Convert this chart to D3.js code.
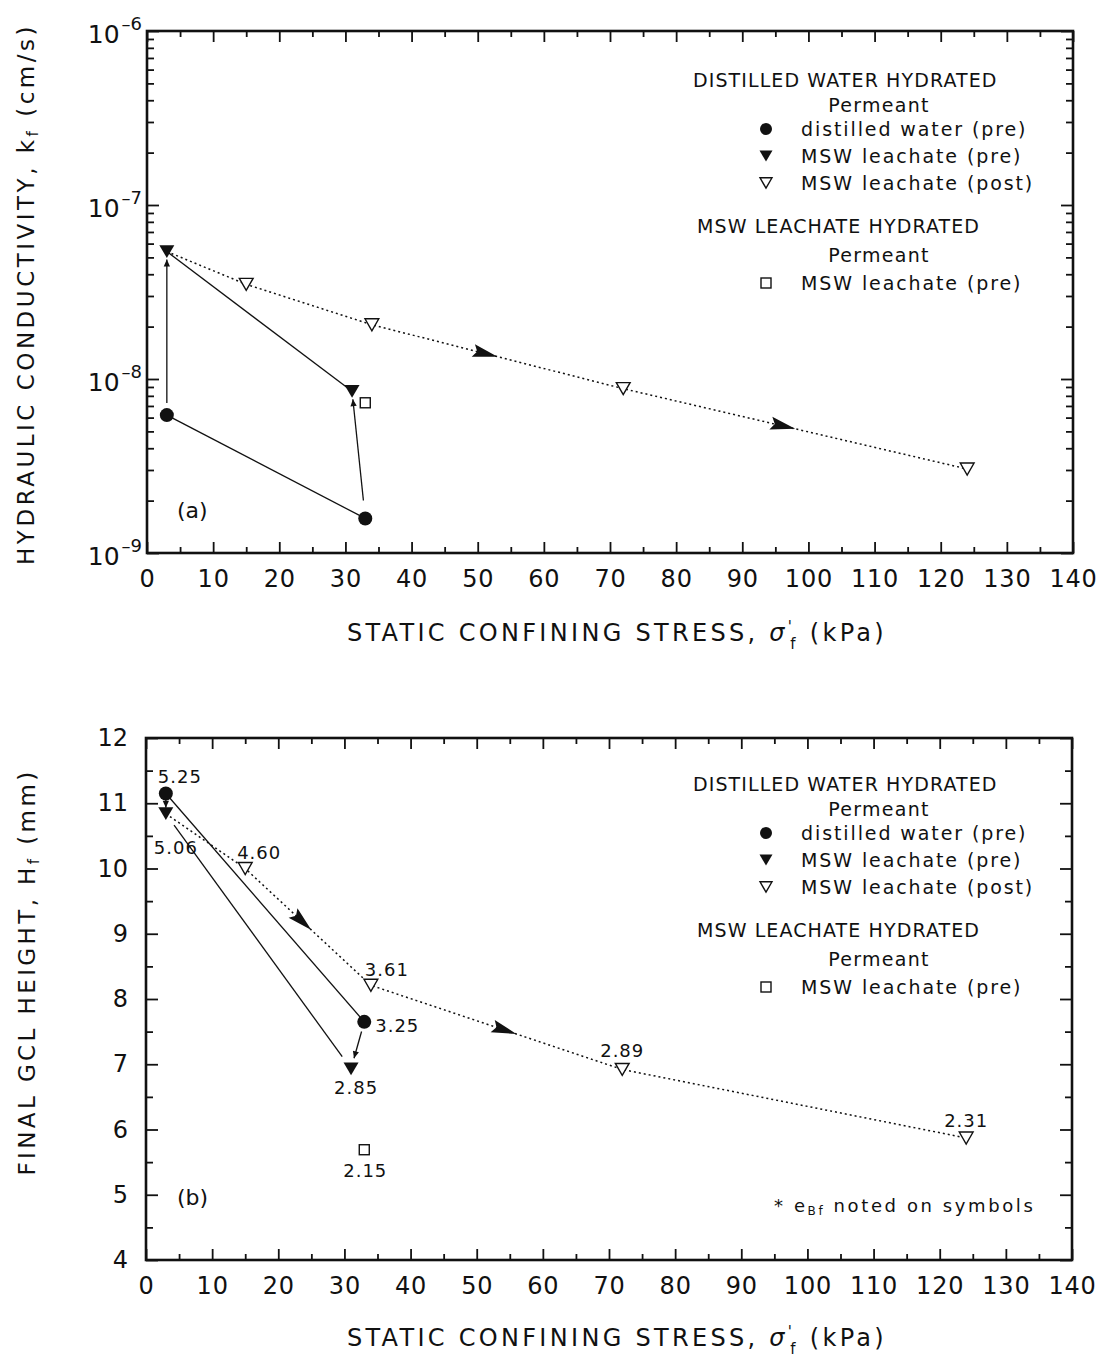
<!DOCTYPE html>
<html>
<head>
<meta charset="utf-8">
<script src="https://cdn.jsdelivr.net/npm/d3@7"></script>
<style>
  body { margin: 0; background: #fff; }
  svg text { font-family: "DejaVu Sans", "Liberation Sans", Arial, sans-serif; fill: #111; }
</style>
</head>
<body>
<svg id="fig" width="1104" height="1360"></svg>
<script>
// ---------------- data ----------------
// shared x axis: static confining stress (kPa)
const stressTicks = [0, 10, 20, 30, 40, 50, 60, 70, 80, 90, 100, 110, 120, 130, 140];
const stressMinorTicks = [5, 15, 25, 35, 45, 55, 65, 75, 85, 95, 105, 115, 125, 135];

// panel (a) y axis: hydraulic conductivity decades
const kDecades = [1e-9, 1e-8, 1e-7, 1e-6];
const kDecadeExponents = ["9", "8", "7", "6"];
const kMinorMultipliers = [2, 3, 4, 5, 6, 7, 8, 9];

// panel (b) y axis: final GCL height (mm)
const heightTicks = [4, 5, 6, 7, 8, 9, 10, 11, 12];
const heightMinorTicks = [4.5, 5.5, 6.5, 7.5, 8.5, 9.5, 10.5, 11.5];

// distilled-water hydrated, distilled water permeant (pre)
const dwStress = [3, 33];
const dwK = [6.2e-9, 1.58e-9];
const dwHeight = [11.15, 7.65];
const dwVoid = ["5.25", "3.25"];

// distilled-water hydrated, MSW leachate permeant (pre)
const mswPreStress = [3, 31];
const mswPreK = [5.4e-8, 8.5e-9];
const mswPreHeight = [10.84, 6.93];
const mswPreVoid = ["5.06", "2.85"];

// distilled-water hydrated, MSW leachate permeant (post)
const mswPostStress = [15, 34, 72, 124];
const mswPostK = [3.5e-8, 2.05e-8, 8.8e-9, 3.04e-9];
const mswPostHeight = [10.0, 8.21, 6.92, 5.87];
const mswPostVoid = ["4.60", "3.61", "2.89", "2.31"];

// MSW-leachate hydrated, MSW leachate permeant (pre)
const lhStress = [33];
const lhK = [7.3e-9];
const lhHeight = [5.69];
const lhVoid = ["2.15"];

// stress values where direction arrowheads sit on the post-test path
const pathArrowStressA = [53, 98];
const pathArrowStressB = [25, 56];

// ---------------- drawing ----------------
const svg = d3.select("#fig");
const defs = svg.append("defs");
defs.append("marker")
  .attr("id", "head")
  .attr("viewBox", "0 0 10 10")
  .attr("refX", 10).attr("refY", 5)
  .attr("markerWidth", 9).attr("markerHeight", 7)
  .attr("markerUnits", "userSpaceOnUse")
  .attr("orient", "auto")
  .append("path").attr("d", "M0,0.5 L10,5 L0,9.5 Z").attr("fill", "#111");

function triDown(w, h) {
  return `M${-w / 2},${-h / 2}L${w / 2},${-h / 2}L0,${h / 2}Z`;
}
const SYM = {
  dot: (g, r) => g.append("circle").attr("r", r.dot).attr("fill", "#111"),
  tri: (g, r) => g.append("path").attr("d", triDown(r.tri, r.tri * 0.85)).attr("fill", "#111"),
  triOpen: (g, r) => g.append("path").attr("d", triDown(r.tri * 0.92, r.tri * 0.8))
    .attr("fill", "#fff").attr("stroke", "#111").attr("stroke-width", 1.4),
  square: (g, r) => g.append("rect").attr("x", -r.sq / 2).attr("y", -r.sq / 2)
    .attr("width", r.sq).attr("height", r.sq)
    .attr("fill", "#fff").attr("stroke", "#111").attr("stroke-width", 1.4)
};
const plotSize = { dot: 7, tri: 15, sq: 10 };
const legendSize = { dot: 6, tri: 13, sq: 10 };

function trim(p0, p1, s0, s1) {
  const dx = p1[0] - p0[0], dy = p1[1] - p0[1];
  const L = Math.hypot(dx, dy), ux = dx / L, uy = dy / L;
  return [[p0[0] + ux * s0, p0[1] + uy * s0], [p1[0] - ux * s1, p1[1] - uy * s1]];
}

function drawFrameAndAxes(x, y, yMajor, yMinor, yMajorFmt) {
  const [x0, x1] = x.range();
  const [yb, yt] = y.range();
  const g = svg.append("g");
  const tickStyle = sel => {
    sel.select(".domain").remove();
    sel.selectAll(".tick line").attr("stroke", "#111").attr("stroke-width", 1.8);
  };
  // x axis: bottom with labels, top without
  g.append("g").attr("transform", `translate(0,${yb})`)
    .call(d3.axisBottom(x).tickValues(stressTicks).tickSizeInner(-11).tickSizeOuter(0).tickPadding(17))
    .call(tickStyle)
    .call(s => s.selectAll("text").attr("font-size", 24).attr("fill", "#111")
      .style("font-family", '"DejaVu Sans", sans-serif').attr("letter-spacing", 0.8));
  g.append("g").attr("transform", `translate(0,${yb})`)
    .call(d3.axisBottom(x).tickValues(stressMinorTicks).tickSizeInner(-6).tickSizeOuter(0).tickFormat(""))
    .call(tickStyle);
  g.append("g").attr("transform", `translate(0,${yt})`)
    .call(d3.axisTop(x).tickValues(stressTicks).tickSizeInner(-11).tickSizeOuter(0).tickFormat(""))
    .call(tickStyle);
  g.append("g").attr("transform", `translate(0,${yt})`)
    .call(d3.axisTop(x).tickValues(stressMinorTicks).tickSizeInner(-6).tickSizeOuter(0).tickFormat(""))
    .call(tickStyle);
  // y axis: left with labels, right without
  g.append("g").attr("transform", `translate(${x0},0)`)
    .call(d3.axisLeft(y).tickValues(yMajor).tickSizeInner(-12).tickSizeOuter(0).tickPadding(18).tickFormat(yMajorFmt))
    .call(tickStyle)
    .call(s => s.selectAll("text").attr("font-size", 24).attr("fill", "#111")
      .style("font-family", '"DejaVu Sans", sans-serif'));
  g.append("g").attr("transform", `translate(${x0},0)`)
    .call(d3.axisLeft(y).tickValues(yMinor).tickSizeInner(-7).tickSizeOuter(0).tickFormat(""))
    .call(tickStyle);
  g.append("g").attr("transform", `translate(${x1},0)`)
    .call(d3.axisRight(y).tickValues(yMajor).tickSizeInner(-12).tickSizeOuter(0).tickFormat(""))
    .call(tickStyle);
  g.append("g").attr("transform", `translate(${x1},0)`)
    .call(d3.axisRight(y).tickValues(yMinor).tickSizeInner(-7).tickSizeOuter(0).tickFormat(""))
    .call(tickStyle);
  // frame
  g.append("rect").attr("x", x0).attr("y", yt).attr("width", x1 - x0).attr("height", yb - yt)
    .attr("fill", "none").attr("stroke", "#111").attr("stroke-width", 2.6);
  return g;
}

function xTitle(cx, baseline) {
  const t = svg.append("text").attr("x", cx).attr("y", baseline).attr("text-anchor", "middle")
    .attr("font-size", 24).attr("letter-spacing", 3.3);
  t.append("tspan").text("STATIC CONFINING STRESS, ");
  t.append("tspan").text("σ").attr("font-style", "italic");
  t.append("tspan").text("'").attr("font-size", 15).attr("dy", -9);
  t.append("tspan").text("f").attr("font-size", 15).attr("dx", -5).attr("dy", 17);
  t.append("tspan").text(" (kPa)").attr("dy", -8);
}

function yTitle(cx, cy, main, sub, tail, spacing) {
  const t = svg.append("text").attr("transform", `translate(${cx},${cy}) rotate(-90)`)
    .attr("text-anchor", "middle").attr("dominant-baseline", "central")
    .attr("font-size", 23).attr("letter-spacing", spacing);
  t.append("tspan").text(main);
  t.append("tspan").text(sub).attr("font-size", 15).attr("dy", 7);
  t.append("tspan").text(tail).attr("dy", -7);
}

function legend(top) {
  const rows = [
    { kind: "head", text: "DISTILLED WATER HYDRATED", x: 693, dy: 49 },
    { kind: "sub", text: "Permeant", dy: 74 },
    { kind: "item", sym: "dot", text: "distilled water (pre)", dy: 98 },
    { kind: "item", sym: "tri", text: "MSW leachate (pre)", dy: 125 },
    { kind: "item", sym: "triOpen", text: "MSW leachate (post)", dy: 152 },
    { kind: "head", text: "MSW LEACHATE HYDRATED", x: 697, dy: 195 },
    { kind: "sub", text: "Permeant", dy: 224 },
    { kind: "item", sym: "square", text: "MSW leachate (pre)", dy: 252 }
  ];
  const g = svg.append("g");
  rows.forEach(r => {
    const yy = top + r.dy;
    if (r.kind === "head") {
      g.append("text").attr("x", r.x).attr("y", yy).attr("dominant-baseline", "central")
        .attr("font-size", 19).attr("letter-spacing", 1.1).text(r.text);
    } else if (r.kind === "sub") {
      g.append("text").attr("x", 879).attr("y", yy).attr("dominant-baseline", "central")
        .attr("text-anchor", "middle").attr("font-size", 19).attr("letter-spacing", 1.3).text(r.text);
    } else {
      const m = g.append("g").attr("transform", `translate(766,${yy})`);
      SYM[r.sym](m, legendSize);
      g.append("text").attr("x", 801).attr("y", yy).attr("dominant-baseline", "central")
        .attr("font-size", 19).attr("letter-spacing", 1.9).text(r.text);
    }
  });
}

function drawPoints(g, xs, ys, x, y, sym) {
  xs.forEach((v, i) => {
    const m = g.append("g").attr("transform", `translate(${x(v)},${y(ys[i])})`);
    SYM[sym](m, plotSize);
  });
}

function pathArrowheads(g, pts, stresses, x) {
  stresses.forEach(s => {
    const px = x(s);
    for (let i = 0; i < pts.length - 1; i++) {
      const a = pts[i], b = pts[i + 1];
      if (px >= a[0] && px <= b[0]) {
        const t = (px - a[0]) / (b[0] - a[0]);
        const py = a[1] + t * (b[1] - a[1]);
        const ang = Math.atan2(b[1] - a[1], b[0] - a[0]) * 180 / Math.PI;
        g.append("path").attr("d", "M0,0 L-25,-6.5 L-21,0 L-25,6.5 Z")
          .attr("transform", `translate(${px},${py}) rotate(${ang})`).attr("fill", "#111");
        break;
      }
    }
  });
}

function drawArrow(g, p0, p1, s0, s1) {
  const [a, b] = trim(p0, p1, s0, s1);
  g.append("line").attr("x1", a[0]).attr("y1", a[1]).attr("x2", b[0]).attr("y2", b[1])
    .attr("stroke", "#111").attr("stroke-width", 1.3).attr("marker-end", "url(#head)");
}

// ===== panel (a): hydraulic conductivity =====
const xA = d3.scaleLinear().domain([0, 140]).range([147, 1073]);
const yA = d3.scaleLog().domain([1e-9, 1e-6]).range([553, 31]);
const minorK = [];
kDecades.slice(0, 3).forEach(d => kMinorMultipliers.forEach(m => minorK.push(d * m)));

drawFrameAndAxes(xA, yA, kDecades, minorK, () => "");
// decade labels 10^-n
kDecades.forEach((d, i) => {
  const t = svg.append("text").attr("x", 142).attr("y", yA(d) + 12).attr("text-anchor", "end")
    .attr("font-size", 25);
  t.append("tspan").text("10");
  t.append("tspan").text("–" + kDecadeExponents[i]).attr("font-size", 18).attr("dy", -13).attr("dx", 2);
});
xTitle(617, 641);
yTitle(26, 294, "HYDRAULIC CONDUCTIVITY, k", "f", " (cm/s)", 3.5);
legend(31);

const gA = svg.append("g");
const lineA = d3.line().x(d => xA(d[0])).y(d => yA(d[1]));
// solid paths of the pre-test series
gA.append("path").attr("d", lineA(dwStress.map((s, i) => [s, dwK[i]])))
  .attr("fill", "none").attr("stroke", "#111").attr("stroke-width", 1.3);
gA.append("path").attr("d", lineA(mswPreStress.map((s, i) => [s, mswPreK[i]])))
  .attr("fill", "none").attr("stroke", "#111").attr("stroke-width", 1.3);
// dotted post-test path from the first leachate point
const postA = [[mswPreStress[0], mswPreK[0]]].concat(mswPostStress.map((s, i) => [s, mswPostK[i]]));
gA.append("path").attr("d", lineA(postA))
  .attr("fill", "none").attr("stroke", "#111").attr("stroke-width", 1.5).attr("stroke-dasharray", "2,3");
pathArrowheads(gA, postA.map(p => [xA(p[0]), yA(p[1])]), pathArrowStressA, xA);
// permeant change arrows: distilled water -> leachate
drawArrow(gA, [xA(dwStress[0]), yA(dwK[0])], [xA(mswPreStress[0]), yA(mswPreK[0])], 12, 8);
drawArrow(gA, [xA(dwStress[1]), yA(dwK[1])], [xA(mswPreStress[1]), yA(mswPreK[1])], 18, 8);
drawPoints(gA, dwStress, dwK, xA, yA, "dot");
drawPoints(gA, mswPreStress, mswPreK, xA, yA, "tri");
drawPoints(gA, mswPostStress, mswPostK, xA, yA, "triOpen");
drawPoints(gA, lhStress, lhK, xA, yA, "square");
svg.append("text").attr("x", 177).attr("y", 510).attr("dominant-baseline", "central")
  .attr("font-size", 22).text("(a)");

// ===== panel (b): final GCL height =====
const xB = d3.scaleLinear().domain([0, 140]).range([146, 1072]);
const yB = d3.scaleLinear().domain([4, 12]).range([1260, 738]);
drawFrameAndAxes(xB, yB, heightTicks, heightMinorTicks, d3.format("d"));
xTitle(617, 1346);
yTitle(27, 972, "FINAL GCL HEIGHT, H", "f", " (mm)", 3.4);
legend(735);

const gB = svg.append("g");
const lineB = d3.line().x(d => xB(d[0])).y(d => yB(d[1]));
gB.append("path").attr("d", lineB(dwStress.map((s, i) => [s, dwHeight[i]])))
  .attr("fill", "none").attr("stroke", "#111").attr("stroke-width", 1.3);
{
  const [a, b] = trim([xB(mswPreStress[0]), yB(mswPreHeight[0])],
                      [xB(mswPreStress[1]), yB(mswPreHeight[1])], 14, 15);
  gB.append("line").attr("x1", a[0]).attr("y1", a[1]).attr("x2", b[0]).attr("y2", b[1])
    .attr("stroke", "#111").attr("stroke-width", 1.3);
}
const postB = [[mswPreStress[0], mswPreHeight[0]]].concat(mswPostStress.map((s, i) => [s, mswPostHeight[i]]));
gB.append("path").attr("d", lineB(postB))
  .attr("fill", "none").attr("stroke", "#111").attr("stroke-width", 1.5).attr("stroke-dasharray", "2,3");
pathArrowheads(gB, postB.map(p => [xB(p[0]), yB(p[1])]), pathArrowStressB, xB);
drawArrow(gB, [xB(dwStress[0]), yB(dwHeight[0])], [xB(mswPreStress[0]), yB(mswPreHeight[0])], 6, 6);
drawArrow(gB, [xB(dwStress[1]), yB(dwHeight[1])], [xB(mswPreStress[1]), yB(mswPreHeight[1])], 10, 11);
drawPoints(gB, dwStress, dwHeight, xB, yB, "dot");
drawPoints(gB, mswPreStress, mswPreHeight, xB, yB, "tri");
drawPoints(gB, mswPostStress, mswPostHeight, xB, yB, "triOpen");
drawPoints(gB, lhStress, lhHeight, xB, yB, "square");

// void ratio labels next to each symbol
function voidLabels(xs, ys, labels, offsets) {
  xs.forEach((s, i) => {
    gB.append("text").attr("x", xB(s) + offsets[i][0]).attr("y", yB(ys[i]) + offsets[i][1])
      .attr("text-anchor", "middle").attr("dominant-baseline", "central")
      .attr("font-size", 18).attr("letter-spacing", 1).text(labels[i]);
  });
}
voidLabels(dwStress, dwHeight, dwVoid, [[14, -17], [33, 4]]);
voidLabels(mswPreStress, mswPreHeight, mswPreVoid, [[10, 34], [5, 19]]);
voidLabels(mswPostStress, mswPostHeight, mswPostVoid, [[14, -16], [16, -16], [0, -19], [0, -17]]);
voidLabels(lhStress, lhHeight, lhVoid, [[1, 21]]);

svg.append("text").attr("x", 177).attr("y", 1197).attr("dominant-baseline", "central")
  .attr("font-size", 22).text("(b)");
{
  const t = svg.append("text").attr("x", 774).attr("y", 1205).attr("dominant-baseline", "central")
    .attr("font-size", 18).attr("letter-spacing", 2.6);
  t.append("tspan").text("* e");
  t.append("tspan").text("Bf").attr("font-size", 12).attr("dy", 6);
  t.append("tspan").text(" noted on symbols").attr("dy", -6);
}
</script>
</body>
</html>
